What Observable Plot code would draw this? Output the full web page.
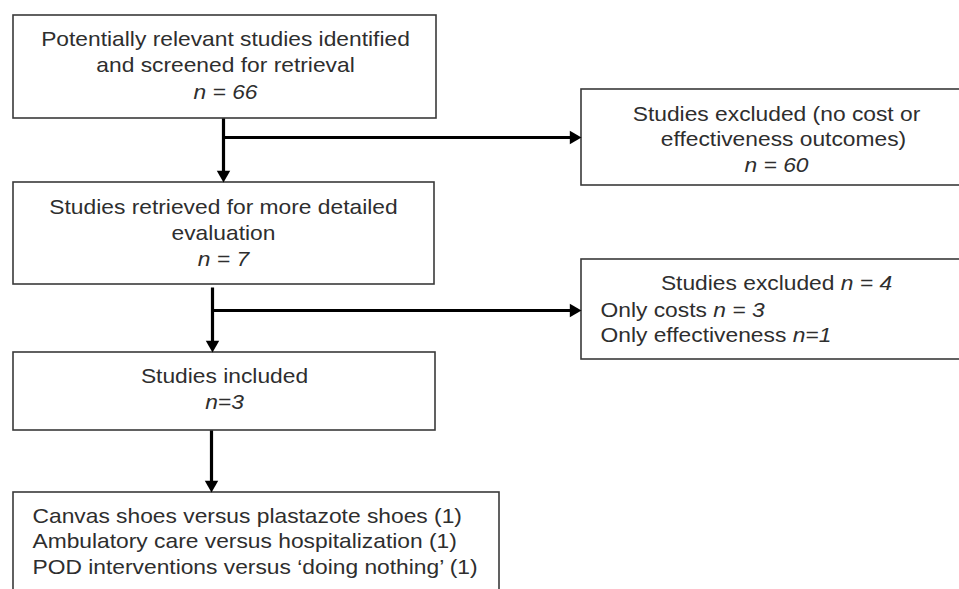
<!DOCTYPE html>
<html>
<head>
<meta charset="utf-8">
<script src="https://cdn.jsdelivr.net/npm/d3@7"></script>
<script src="https://cdn.jsdelivr.net/npm/@observablehq/plot@0.6"></script>
<style>
  html, body { margin: 0; padding: 0; background: #fff; overflow: hidden; }
  #chart svg { display: block; }
</style>
</head>
<body>
<div id="chart"></div>
<script>
// ---- Data (flow stages and counts) ----
const mainLabels = [
  ["Potentially relevant studies identified", "and screened for retrieval"],
  ["Studies retrieved for more detailed", "evaluation"],
  ["Studies included"]
];
const mainCounts = ["n = 66", "n = 7", "n=3"];
const excludedLabels = [
  ["Studies excluded (no cost or", "effectiveness outcomes)"],
  ["Studies excluded"]
];
const excludedCounts = ["n = 60", "n = 4"];
const excludedReasons = ["Only costs", "Only effectiveness"];
const excludedReasonCounts = ["n = 3", "n=1"];
const comparisons = [
  "Canvas shoes versus plastazote shoes",
  "Ambulatory care versus hospitalization",
  "POD interventions versus \u2018doing nothing\u2019"
];
const comparisonCounts = [1, 1, 1];

// ---- Layout (diagram geometry, kept apart from the data) ----
const boxLayout = [
  {x1: 13, y1: 15, x2: 436, y2: 118},   // main 1
  {x1: 13, y1: 182, x2: 434, y2: 284},  // main 2
  {x1: 13, y1: 352, x2: 435, y2: 430},  // main 3
  {x1: 581, y1: 89, x2: 970, y2: 185},  // excluded 1
  {x1: 581, y1: 259, x2: 970, y2: 359}, // excluded 2
  {x1: 13, y1: 492, x2: 499, y2: 620}   // comparisons
];
const mainText = [
  {x: 225, y: 45, step: 26.5},
  {x: 223, y: 213, step: 26},
  {x: 224, y: 382, step: 26}
];
const exclText = [
  {x: 776, y: 120, step: 25.5, dx: [0, 7, 0]},
  {x: 776, y: 289, step: 26}
];
const reasonText = {x: 600, y: 316, step: 25.5};
const compText = {x: 32, y: 522, step: 25.7};
const arrowLayout = [
  {x1: 223, y1: 118, x2: 223, y2: 182, dir: "down"},
  {x1: 223, y1: 137, x2: 581, y2: 137, dir: "right"},
  {x1: 212, y1: 287, x2: 212, y2: 352, dir: "down"},
  {x1: 212, y1: 310, x2: 581, y2: 310, dir: "right"},
  {x1: 211, y1: 430, x2: 211, y2: 492, dir: "down"}
];

// ---- Build text rows ----
const textRows = [];
mainLabels.forEach((lines, i) => {
  const L = mainText[i];
  const all = [...lines, mainCounts[i]];
  all.forEach((t, j) => textRows.push({text: t, x: L.x, y: L.y + j * L.step, anchor: "middle"}));
});
{
  const L = exclText[0];
  const all = [...excludedLabels[0], excludedCounts[0]];
  all.forEach((t, j) => textRows.push({text: t, x: L.x + (L.dx[j] || 0), y: L.y + j * L.step, anchor: "middle"}));
}
{
  const L = exclText[1];
  textRows.push({text: excludedLabels[1][0] + " " + excludedCounts[1], x: L.x, y: L.y, anchor: "middle"});
}
excludedReasons.forEach((r, j) => {
  textRows.push({text: r + " " + excludedReasonCounts[j], x: reasonText.x, y: reasonText.y + j * reasonText.step, anchor: "start"});
});
comparisons.forEach((c, j) => {
  textRows.push({text: c + " (" + comparisonCounts[j] + ")", x: compText.x, y: compText.y + j * compText.step, anchor: "start"});
});

// arrow heads: tip position -> triangle centroid
const headR = 5;
const headH = Math.sqrt(4 * Math.PI * headR * headR / Math.sqrt(3)) * Math.sqrt(3) / 2;
const heads = arrowLayout.map(a => a.dir === "down"
  ? {x: a.x2, y: a.y2 - headH * 2 / 3, rot: 180}
  : {x: a.x2 - headH * 2 / 3, y: a.y2, rot: 90});
const shafts = arrowLayout.map(a => a.dir === "down"
  ? {...a, y2: a.y2 - headH * 0.6}
  : {...a, x2: a.x2 - headH * 0.6});

const svg = Plot.plot({
  width: 959,
  height: 589,
  margin: 0,
  x: {type: "linear", domain: [0, 959], range: [0, 959], axis: null},
  y: {type: "linear", domain: [0, 589], range: [0, 589], axis: null},
  style: {fontFamily: "'Liberation Sans', Arial, Helvetica, sans-serif", fontSize: "20px", background: "#fff", overflow: "hidden"},
  marks: [
    Plot.rect(boxLayout, {x1: "x1", x2: "x2", y1: "y1", y2: "y2", fill: "white", stroke: "#3a3a3a", strokeWidth: 1.6}),
    Plot.link(shafts, {x1: "x1", y1: "y1", x2: "x2", y2: "y2", stroke: "#000", strokeWidth: 3.2}),
    Plot.dot(heads, {x: "x", y: "y", rotate: "rot", symbol: "triangle", r: headR, fill: "#000", stroke: "none"}),
    Plot.text(textRows.filter(d => d.anchor === "middle"), {x: "x", y: "y", text: "text", textAnchor: "middle", lineAnchor: "bottom", fill: "#2e2e2e", fontSize: 20}),
    Plot.text(textRows.filter(d => d.anchor === "start"), {x: "x", y: "y", text: "text", textAnchor: "start", lineAnchor: "bottom", fill: "#2e2e2e", fontSize: 20})
  ]
});

// italicise the "n = .." parts and widen glyphs to match the reference
const NS = "http://www.w3.org/2000/svg";
const SX = 1.14;
svg.querySelectorAll("g[aria-label='text'] text").forEach(t => {
  const s = t.textContent;
  while (t.firstChild) t.removeChild(t.firstChild);
  s.split(/(\bn\s*=\s*\d+)/).forEach(p => {
    if (!p) return;
    const ts = document.createElementNS(NS, "tspan");
    ts.textContent = p;
    if (/^n\s*=/.test(p)) ts.setAttribute("font-style", "italic");
    t.appendChild(ts);
  });
  const tr = t.getAttribute("transform");
  if (tr) {
    t.setAttribute("transform", tr + ` scale(${SX},1)`);
  } else {
    const x = +t.getAttribute("x") || 0;
    t.setAttribute("transform", `translate(${x},0) scale(${SX},1) translate(${-x},0)`);
  }
});

document.getElementById("chart").appendChild(svg);
</script>
</body>
</html>
